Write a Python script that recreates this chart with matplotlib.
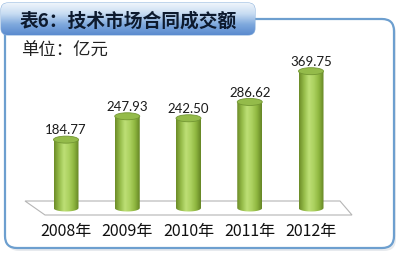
import numpy as np
import matplotlib
matplotlib.use("Agg")
import matplotlib.pyplot as plt
from matplotlib.patches import FancyBboxPatch, Ellipse, Polygon, PathPatch
from matplotlib.path import Path
from matplotlib.colors import LinearSegmentedColormap

plt.rcParams["font.family"] = ["Noto Sans CJK SC", "DejaVu Sans"]

title = "表6：技术市场合同成交额"
unit = "单位：亿元"
years = ["2008年", "2009年", "2010年", "2011年", "2012年"]
values = [184.77, 247.93, 242.50, 286.62, 369.75]

W, H = 400, 255
fig = plt.figure(figsize=(W / 100, H / 100), dpi=100)

# background layer in pixel coords (y downwards)
bg = fig.add_axes([0, 0, 1, 1])
bg.set_xlim(0, W)
bg.set_ylim(H, 0)
bg.axis("off")

# outer frame with soft shadow
bg.add_patch(FancyBboxPatch((7, 22), 389, 230, boxstyle="round,pad=0,rounding_size=12",
                            fc="#d8dde3", ec="none", alpha=0.6))
bg.add_patch(FancyBboxPatch((5, 20), 389, 229, boxstyle="round,pad=0,rounding_size=12",
                            fc="white", ec="#6d9fcf", lw=1.6))

# title banner with vertical gradient
banner = FancyBboxPatch((1, 4), 254, 32, boxstyle="round,pad=0,rounding_size=7",
                        fc="none", ec="#8fb4de", lw=0.8)
bg.add_patch(banner)
grad = np.linspace(0, 1, 64).reshape(-1, 1)
blue_cmap = LinearSegmentedColormap.from_list("b", ["#eef4fb", "#c7dcf2", "#7fa9dd", "#5b8bcf"])
im = bg.imshow(grad, cmap=blue_cmap, extent=(1, 255, 36, 4), aspect="auto", zorder=1)
im.set_clip_path(banner)
bg.text(20, 21, title, fontsize=13.5, fontweight="bold", color="#0d1a2e",
        va="center", ha="left", zorder=3)

bg.text(21, 51, unit, fontsize=12.5, color="#222222", va="center", ha="left")

# floor of the 3d plot
bg.add_patch(Polygon([(25, 202), (340, 202), (352, 216), (45, 216)], closed=True,
                     fc="white", ec="#b5b5b5", lw=0.8))

# bar axes: data coords, 0 at y=209 px, ~0.37 px per unit
px_per_unit = 0.37
ylo, yhi = -25, 400
step = 61.25
left = 66 - step / 2
bottom = (H - 209) - (0 - ylo) * px_per_unit
ax = fig.add_axes([left / W, bottom / H, 5 * step / W, (yhi - ylo) * px_per_unit / H])
ax.set_xlim(-0.5, 4.5)
ax.set_ylim(ylo, yhi)
ax.axis("off")

green_cmap = LinearSegmentedColormap.from_list(
    "g", ["#6c8c28", "#96bc4a", "#bddf76", "#acd160", "#8fb740", "#668626"])
bar_w = 25 / step
ell_h = 7 / px_per_unit
hgrad = np.linspace(0, 1, 64).reshape(1, -1)
x = np.arange(len(values))

for xi, v in zip(x, values):
    x0, x1 = xi - bar_w / 2, xi + bar_w / 2
    t = np.linspace(np.pi, 2 * np.pi, 40)
    arc = np.column_stack([xi + bar_w / 2 * np.cos(t), ell_h / 2 * np.sin(t)])
    verts = np.vstack([[x0, v], arc, [x1, v], [x0, v]])
    body = PathPatch(Path(verts), fc="none", ec="none")
    ax.add_patch(body)
    b = ax.imshow(hgrad, cmap=green_cmap, extent=(x0, x1, -ell_h, v),
                  aspect="auto", zorder=2)
    b.set_clip_path(body)
    ax.add_patch(Ellipse((xi, v), bar_w, ell_h, fc="#94bb4a", ec="#739733",
                         lw=0.6, zorder=3))
    ax.text(xi, v + 28, f"{v:.2f}", ha="center", va="center", fontsize=9.5,
            color="#1a1a1a", family=["Lato", "DejaVu Sans"])

for xi, yr in zip(x, years):
    ax.text(xi, -62, yr, ha="center", va="center", fontsize=11.5,
            color="#111111", clip_on=False)

fig.savefig("out.png", dpi=100)
